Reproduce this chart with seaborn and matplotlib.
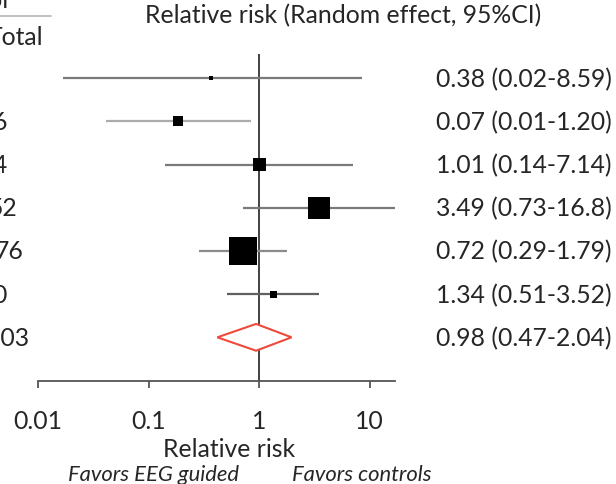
import numpy as np
import pandas as pd
import matplotlib
matplotlib.use("Agg")
import matplotlib.pyplot as plt
import seaborn as sns

# --- datos ---
study_totals = ["3", "6", "4", "52", "76", "0"]
pooled_total = "103"
rr_est = [0.37, 0.185, 1.0, 3.5, 0.72, 1.34]
rr_lo = [0.017, 0.041, 0.14, 0.72, 0.285, 0.51]
rr_hi = [8.6, 0.84, 7.16, 16.9, 1.8, 3.5]
pooled_est, pooled_lo, pooled_hi = 0.94, 0.42, 1.97
rr_labels = ["0.38 (0.02-8.59)", "0.07 (0.01-1.20)", "1.01 (0.14-7.14)",
             "3.49 (0.73-16.8)", "0.72 (0.29-1.79)", "1.34 (0.51-3.52)"]
pooled_label = "0.98 (0.47-2.04)"
xticks = [0.01, 0.1, 1, 10]
xtick_labels = ["0.01", "0.1", "1", "10"]

# estilo
box_px = [4, 10, 13, 22, 28, 7]
line_cols = ["#7a7a7a", "#ababab", "#7a7a7a", "#7a7a7a", "#8a8a8a", "#606060"]

sns.set_theme(style="white")
plt.rcParams['font.family'] = ['Lato', 'DejaVu Sans']
TXT = "#262626"
FS = 17.8

W, H = 616, 485
fig = plt.figure(figsize=(W / 100, H / 100), dpi=100)
ax_l, ax_r, ax_t, ax_b = 38, 395, 55, 382
ax = fig.add_axes([ax_l / W, 1 - ax_b / H, (ax_r - ax_l) / W, (ax_b - ax_t) / H])

row_px = 43.17
y0 = 79.3
ax.set_xscale("log")
ax.set_xlim(0.01, 10 ** ((ax_r - 259) / 110.5))
ax.set_ylim((ax_b - y0) / row_px, (ax_t - y0) / row_px)

n = len(rr_est)
rows = np.arange(n)
df = pd.DataFrame({"row": rows, "est": rr_est, "lo": rr_lo, "hi": rr_hi})

ax.axvline(1, color="#333333", lw=1.3, zorder=2)
ax.hlines(df["row"], df["lo"], df["hi"], colors=line_cols, lw=1.6, zorder=3)
sns.scatterplot(data=df, x="est", y="row", marker="s", color="black",
                s=[(p * 0.72) ** 2 for p in box_px], linewidth=0, ax=ax, zorder=4,
                legend=False)

# diamante del efecto global
yd = n
hh = 0.31
ax.fill([pooled_lo, pooled_est, pooled_hi, pooled_est], [yd, yd - hh, yd, yd + hh],
        facecolor="white", edgecolor="#f04a3a", lw=1.5, zorder=5)

for sp in ["left", "right", "top"]:
    ax.spines[sp].set_visible(False)
ax.spines["bottom"].set_color("#555555")
ax.spines["bottom"].set_linewidth(1.3)
ax.set_yticks([])
ax.set_xticks(xticks)
ax.set_xticklabels(xtick_labels)
ax.xaxis.set_minor_locator(matplotlib.ticker.NullLocator())
ax.tick_params(axis="x", direction="out", length=5, width=1.3, color="#555555",
               pad=15.5, labelsize=FS, labelcolor=TXT, bottom=True)
ax.set_xlabel("")
ax.set_ylabel("")

# etiquetas de la derecha
lab_x = (436 - ax_l) / (ax_r - ax_l)
for r, lab in zip(rows, rr_labels):
    ax.text(lab_x, r, lab, transform=ax.get_yaxis_transform(), va="center",
            ha="left", fontsize=FS, color=TXT, clip_on=False)
ax.text(lab_x, yd, pooled_label, transform=ax.get_yaxis_transform(), va="center",
        ha="left", fontsize=FS, color=TXT, clip_on=False)

# columna izquierda (recortada en el original)
right_edges = [1.5, 7, 7, 17, 24, 7]
for r, tot, xe in zip(rows, study_totals, right_edges):
    fig.text(xe / W, 1 - (y0 + r * row_px) / H, tot, ha="right", va="center",
             fontsize=FS, color=TXT)
fig.text(30 / W, 1 - (y0 + yd * row_px) / H, pooled_total, ha="right", va="center",
         fontsize=FS, color=TXT)
fig.text(43 / W, 1 - 38 / H, "Total", ha="right", va="center", fontsize=FS, color=TXT)
fig.text(9 / W, 1 - 0 / H, "Control", ha="right", va="center", fontsize=FS, color=TXT)
fig.add_artist(plt.Line2D([0, 51 / W], [1 - 17 / H, 1 - 17 / H], color="#bbbbbb", lw=1.3))

# titulos
fig.text(343 / W, 1 - 16 / H, "Relative risk (Random effect, 95%CI)", ha="center",
         va="center", fontsize=FS, color=TXT)
fig.text(229 / W, 1 - 450 / H, "Relative risk", ha="center", va="center",
         fontsize=FS, color=TXT)
fig.text(154 / W, 1 - 475 / H, "Favors EEG guided", ha="center", va="center",
         fontsize=15.8, style="italic", color=TXT)
fig.text(362 / W, 1 - 475 / H, "Favors controls", ha="center", va="center",
         fontsize=15.8, style="italic", color=TXT)

fig.savefig("out.png", dpi=100)
